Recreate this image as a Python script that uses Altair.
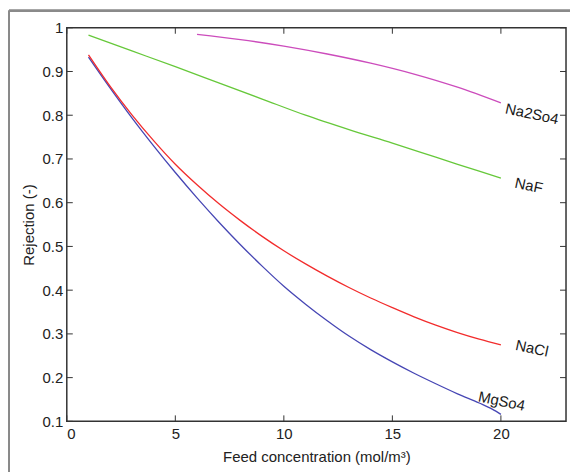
import altair as alt
import pandas as pd

# ---- data ----
mg_x = [1, 2, 3, 4, 5, 6, 7, 8, 9, 10, 11, 12, 13, 14, 15, 16, 17, 18, 19, 19.6, 20]
mg_y = [0.933, 0.862, 0.794, 0.730, 0.669, 0.611, 0.556, 0.504, 0.455, 0.409, 0.368,
        0.330, 0.295, 0.264, 0.236, 0.210, 0.186, 0.163, 0.142, 0.128, 0.116]

nacl_x = [1, 2, 3, 4, 5, 6, 7, 8, 9, 10, 11, 12, 13, 14, 15, 16, 17, 18, 19, 20]
nacl_y = [0.938, 0.866, 0.801, 0.742, 0.688, 0.641, 0.598, 0.559, 0.523, 0.490, 0.460,
          0.432, 0.406, 0.382, 0.360, 0.339, 0.320, 0.303, 0.288, 0.275]

naf_x = [1, 3, 5, 7, 9, 11, 13, 15, 17, 19, 20]
naf_y = [0.983, 0.947, 0.911, 0.874, 0.837, 0.800, 0.767, 0.736, 0.704, 0.672, 0.656]

na2so4_x = [6, 8, 10, 12, 14, 16, 18, 20]
na2so4_y = [0.985, 0.973, 0.958, 0.940, 0.919, 0.894, 0.864, 0.828]

series_names = ["MgSo4", "NaCl", "NaF", "Na2So4"]
series_colors = ["#4646b4", "#f22c2c", "#66c83a", "#cc4cbc"]

label_names = ["Na2So4", "NaF", "NaCl", "MgSo4"]
label_x = [21.43, 21.29, 21.43, 20.04]
label_y = [0.803, 0.639, 0.267, 0.146]

x_ticks = [0, 5, 10, 15, 20]
y_ticks = [0.1, 0.2, 0.3, 0.4, 0.5, 0.6, 0.7, 0.8, 0.9, 1.0]

# ---- tables ----
rows = []
for name, xs_, ys_ in zip(series_names, [mg_x, nacl_x, naf_x, na2so4_x],
                          [mg_y, nacl_y, naf_y, na2so4_y]):
    for xv, yv in zip(xs_, ys_):
        rows.append({"series": name, "x": xv, "y": yv})
df = pd.DataFrame(rows)
labels = pd.DataFrame({"name": label_names, "x": label_x, "y": label_y})
xt = pd.DataFrame({"x": x_ticks})
yt = pd.DataFrame({"y": y_ticks})

W, H = 501, 395
FONT = "Liberation Sans"
xs = alt.Scale(domain=[0, 23], nice=False, zero=False)
ys = alt.Scale(domain=[0.1, 1.0], nice=False, zero=False)
x_axis = alt.Axis(values=x_ticks, title="Feed concentration (mol/m³)",
                  grid=False, ticks=False, domain=False,
                  labelPadding=5, titlePadding=8)
y_axis = alt.Axis(values=y_ticks, format=".1~f", title="Rejection (-)",
                  grid=False, ticks=False, domain=False,
                  labelPadding=4, titlePadding=6)


def X():
    return alt.X("x:Q", scale=xs, axis=x_axis)


def Y():
    return alt.Y("y:Q", scale=ys, axis=y_axis)


lines = alt.Chart(df).mark_line(strokeWidth=1.3, interpolate="monotone").encode(
    x=X(), y=Y(),
    color=alt.Color("series:N", scale=alt.Scale(domain=series_names, range=series_colors),
                    legend=None),
    detail="series:N",
)

text = alt.Chart(labels).mark_text(font=FONT, fontSize=15, angle=12, color="#1a1a1a",
                                   align="center", baseline="middle").encode(
    x=X(), y=Y(), text="name:N",
)

TL = 6
tick_color = "#333333"
bottom_ticks = alt.Chart(xt).mark_rule(color=tick_color, strokeWidth=1).encode(
    x=X(), y=alt.value(H), y2=alt.value(H - TL))
top_ticks = alt.Chart(xt).mark_rule(color=tick_color, strokeWidth=1).encode(
    x=X(), y=alt.value(0), y2=alt.value(TL))
left_ticks = alt.Chart(yt).mark_rule(color=tick_color, strokeWidth=1).encode(
    y=Y(), x=alt.value(0), x2=alt.value(TL))
right_ticks = alt.Chart(yt).mark_rule(color=tick_color, strokeWidth=1).encode(
    y=Y(), x=alt.value(W), x2=alt.value(W - TL))

frame_top = alt.Chart(xt).mark_rule(color="#8a8a8a", strokeWidth=2).encode(
    x=alt.value(-58), x2=alt.value(511), y=alt.value(-17))
frame_left = alt.Chart(xt).mark_rule(color="#8a8a8a", strokeWidth=2).encode(
    x=alt.value(-58), y=alt.value(-17), y2=alt.value(460))

chart = alt.layer(
    lines, text, bottom_ticks, top_ticks, left_ticks, right_ticks, frame_top, frame_left
).properties(
    width=W, height=H,
    autosize=alt.AutoSizeParams(type="none"),
    padding={"left": 59, "top": 19, "right": 4, "bottom": 52},
    background="white",
).configure_view(
    stroke="#333333", strokeWidth=1.5
).configure_axis(
    labelFont=FONT, titleFont=FONT, labelFontSize=15, titleFontSize=15,
    labelColor="#222222", titleColor="#222222", titleFontWeight="normal",
)

chart.save("out.html", embed_options={"renderer": "svg", "actions": False})
